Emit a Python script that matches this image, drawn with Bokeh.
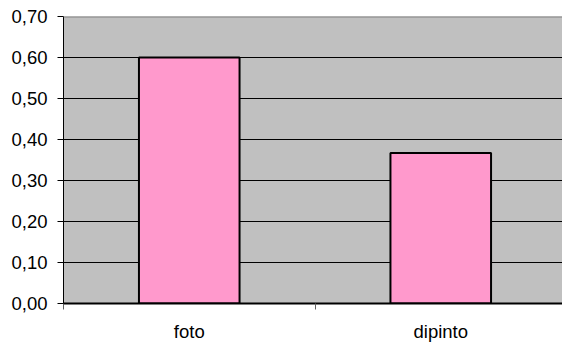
from bokeh.plotting import figure
from bokeh.models import Range1d, FixedTicker, Span
from bokeh.embed import file_html
from bokeh.resources import INLINE

categories = ["foto", "dipinto"]
values = [0.60, 0.367]
y_ticks = [0.0, 0.1, 0.2, 0.3, 0.4, 0.5, 0.6, 0.7]
y_tick_labels = ["0,00", "0,10", "0,20", "0,30", "0,40", "0,50", "0,60", "0,70"]

x_pos = [i + 0.5 for i in range(len(categories))]

p = figure(width=562, height=344, output_backend="svg", toolbar_location=None,
           x_range=Range1d(0, 499 / 251.5), y_range=Range1d(0, 0.70),
           min_border_left=63, min_border_right=0, min_border_top=16, min_border_bottom=39)

p.background_fill_color = "#C0C0C0"
p.border_fill_color = "white"
p.outline_line_color = None

p.vbar(x=x_pos, top=values, width=0.4, bottom=0, fill_color="#FF99CC",
       line_color="black", line_width=2)

# x axis
p.xaxis.ticker = FixedTicker(ticks=x_pos, minor_ticks=[0, 1, 2])
p.xaxis.major_label_overrides = {x: c for x, c in zip(x_pos, categories)}
p.xaxis.major_tick_line_color = None
p.xaxis.minor_tick_out = 6
p.xaxis.minor_tick_in = 0
p.xaxis.minor_tick_line_color = "#606060"
p.xaxis.axis_line_color = "black"
p.xaxis.axis_line_width = 2
p.xaxis.major_label_standoff = 11
p.xaxis.major_label_text_font = "Liberation Sans"
p.xaxis.major_label_text_font_size = "18.5px"
p.xaxis.major_label_text_color = "black"

# y axis
p.yaxis.ticker = FixedTicker(ticks=y_ticks)
p.yaxis.major_label_overrides = {t: l for t, l in zip(y_ticks, y_tick_labels)}
p.yaxis.major_tick_out = 6
p.yaxis.major_tick_in = 0
p.yaxis.minor_tick_line_color = None
p.yaxis.axis_line_color = "black"
p.yaxis.major_label_standoff = 10
p.yaxis.major_label_text_font = "Liberation Sans"
p.yaxis.major_label_text_font_size = "18.5px"
p.yaxis.major_label_text_color = "black"

p.xgrid.grid_line_color = None
p.ygrid.ticker = FixedTicker(ticks=y_ticks[1:-1])
p.ygrid.grid_line_color = "black"
p.ygrid.grid_line_width = 1

p.add_layout(Span(location=y_ticks[-1], dimension="width", line_color="#808080", line_width=2))

open("out.html", "w").write(file_html(p, INLINE))
